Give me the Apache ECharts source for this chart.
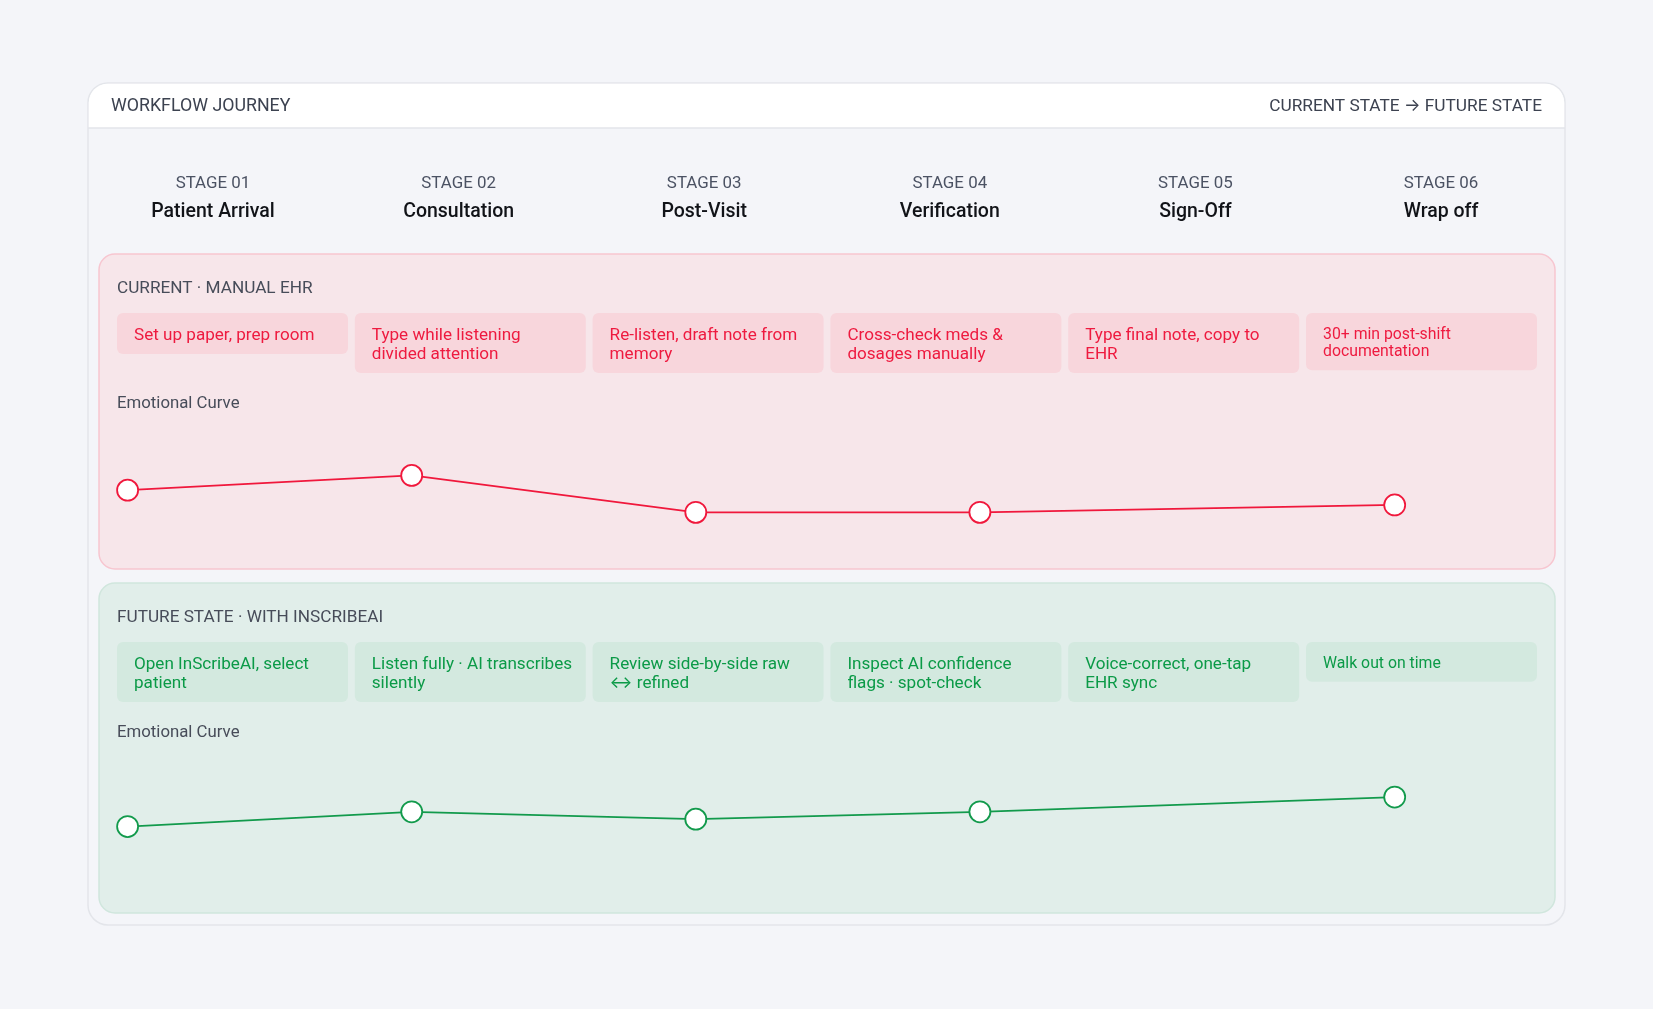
<!DOCTYPE html>
<html>
<head>
<meta charset="utf-8">
<script src="https://cdn.jsdelivr.net/npm/echarts@6/dist/echarts.min.js"></script>
<style>
html,body{margin:0;padding:0;background:#f4f5f9;}
#chart{width:1653px;height:1009px;}
</style>
</head>
<body>
<div id="chart"></div>
<script>
// ---------- data ----------
const headerLeft = 'WORKFLOW JOURNEY';
const headerRight = 'CURRENT STATE \u2192 FUTURE STATE';
const stageLabels = ['STAGE 01', 'STAGE 02', 'STAGE 03', 'STAGE 04', 'STAGE 05', 'STAGE 06'];
const stageNames = ['Patient Arrival', 'Consultation', 'Post-Visit', 'Verification', 'Sign-Off', 'Wrap off'];
const currentTitle = 'CURRENT \u00b7 MANUAL EHR';
const currentTasks = [
  'Set up paper, prep room',
  'Type while listening\ndivided attention',
  'Re-listen, draft note from\nmemory',
  'Cross-check meds &\ndosages manually',
  'Type final note, copy to\nEHR',
  '30+ min post-shift\ndocumentation'
];
const futureTitle = 'FUTURE STATE \u00b7 WITH INSCRIBEAI';
const futureTasks = [
  'Open InScribeAI, select\npatient',
  'Listen fully \u00b7 AI transcribes\nsilently',
  'Review side-by-side raw\n\u2194 refined',
  'Inspect AI confidence\nflags \u00b7 spot-check',
  'Voice-correct, one-tap\nEHR sync',
  'Walk out on time'
];
const curveLabel = 'Emotional Curve';
const curveX = [0, 1, 2, 3, 4.46];
const currentCurve = [4, 6, 1, 1, 2];
const futureCurve = [3, 5, 4, 5, 7];

// ---------- layout / style ----------
const FONT = 'Roboto, Inter, "Noto Sans", sans-serif';
const C = {
  bg: '#f4f5f9', cardBorder: '#e3e5ea', header: '#ffffff', headText: '#3c4250',
  stageLabel: '#4b5263', stageName: '#111318', sectionText: '#474c59',
  redPanel: '#f7e6ea', redBorder: '#f7c6d0', redBox: '#f8d6dc', redText: '#ee1a3f', redLine: '#f0183c',
  greenPanel: '#e1eeea', greenBorder: '#d0e6dd', greenBox: '#d3e9df', greenText: '#0b9a47', greenLine: '#129a4c'
};
const card = {x: 88, y: 83, w: 1477, h: 842, r: 20, headH: 45};
const stageX0 = 213, stageStep = 245.6;
const panelX = 99, panelW = 1456;
const panels = [
  {y: 254, h: 315, title: currentTitle, tasks: currentTasks, fill: C.redPanel, border: C.redBorder, box: C.redBox, text: C.redText},
  {y: 583, h: 330, title: futureTitle, tasks: futureTasks, fill: C.greenPanel, border: C.greenBorder, box: C.greenBox, text: C.greenText}
];
const boxX0 = 117, boxStep = 237.8, boxW = 231, boxTopOff = 59;

function txt(x, y, text, size, color, weight, align) {
  return {
    type: 'text', z: 5,
    style: {
      x: x, y: y, text: text, fill: color,
      fontSize: size, fontFamily: FONT, fontWeight: weight || 400,
      align: align || 'left', verticalAlign: 'middle',
      textAlign: align || 'left', textVerticalAlign: 'middle'
    }
  };
}

const graphics = [];
// card body
graphics.push({type: 'rect', z: 1, shape: {x: card.x, y: card.y, width: card.w, height: card.h, r: card.r},
  style: {fill: C.bg, stroke: C.cardBorder, lineWidth: 1.5}});
graphics.push({type: 'rect', z: 2, shape: {x: card.x + 0.75, y: card.y + 0.75, width: card.w - 1.5, height: card.headH - 0.75, r: [card.r - 1, card.r - 1, 0, 0]},
  style: {fill: C.header}});
graphics.push({type: 'line', z: 3, shape: {x1: card.x, y1: card.y + card.headH, x2: card.x + card.w, y2: card.y + card.headH},
  style: {stroke: C.cardBorder, lineWidth: 1.5}});
graphics.push(txt(111, 107, headerLeft, 17.8, C.headText, 400, 'left'));
graphics.push(txt(1542, 107, headerRight, 17.3, C.headText, 400, 'right'));

// stages
stageLabels.forEach(function (s, i) {
  const cx = stageX0 + i * stageStep;
  graphics.push(txt(cx, 183.3, s, 16.9, C.stageLabel, 400, 'center'));
  graphics.push(txt(cx, 212, stageNames[i], 19.5, C.stageName, 500, 'center'));
});

// panels
panels.forEach(function (p) {
  graphics.push({type: 'rect', z: 1, shape: {x: panelX, y: p.y, width: panelW, height: p.h, r: 16},
    style: {fill: p.fill, stroke: p.border, lineWidth: 1.5}});
  graphics.push(txt(117, p.y + 35, p.title, 17.2, C.sectionText, 400, 'left'));
  graphics.push(txt(117, p.y + 149.5, curveLabel, 16.8, C.sectionText, 400, 'left'));
  p.tasks.forEach(function (t, i) {
    const small = i === 5;
    const fs = small ? 15.8 : 17.1;
    const lh = small ? 17.4 : 19;
    const pad = small ? 11.2 : 11;
    const lines = t.split('\n').length;
    const bx = boxX0 + i * boxStep;
    const by = p.y + boxTopOff;
    graphics.push({type: 'rect', z: 3, shape: {x: bx, y: by, width: boxW, height: pad * 2 + lines * lh, r: 6},
      style: {fill: p.box}});
    graphics.push({type: 'text', z: 5, style: {
      x: bx + 17, y: by + pad + 1.8, text: t, fill: p.text, fontSize: fs, fontFamily: FONT,
      lineHeight: lh, align: 'left', verticalAlign: 'top', textAlign: 'left', textVerticalAlign: 'top'
    }});
  });
});

const gridLeft = 127.6, gridW = 1420.5, gridH = 73.8;
const chart = echarts.init(document.getElementById('chart'), null, {renderer: 'canvas'});
function mkSeries(idx, vals, color) {
  return {
    type: 'line', xAxisIndex: idx, yAxisIndex: idx, z: 10,
    data: curveX.map(function (x, i) { return [x, vals[i]]; }),
    symbol: 'circle', symbolSize: 21, showAllSymbol: true,
    lineStyle: {color: color, width: 1.8},
    itemStyle: {color: '#ffffff', borderColor: color, borderWidth: 1.8},
    emphasis: {disabled: true}, animation: false, silent: true
  };
}
function mkAxisX(i) {
  return {type: 'value', gridIndex: i, min: 0, max: 5, show: false};
}
function mkAxisY(i) {
  return {type: 'value', gridIndex: i, min: 0, max: 10, show: false};
}
chart.setOption({
  backgroundColor: C.bg,
  animation: false,
  graphic: graphics,
  grid: [
    {left: gridLeft, top: 445.9, width: gridW, height: gridH},
    {left: gridLeft, top: 774.9, width: gridW, height: gridH}
  ],
  xAxis: [mkAxisX(0), mkAxisX(1)],
  yAxis: [mkAxisY(0), mkAxisY(1)],
  series: [mkSeries(0, currentCurve, C.redLine), mkSeries(1, futureCurve, C.greenLine)]
});
</script>
</body>
</html>
